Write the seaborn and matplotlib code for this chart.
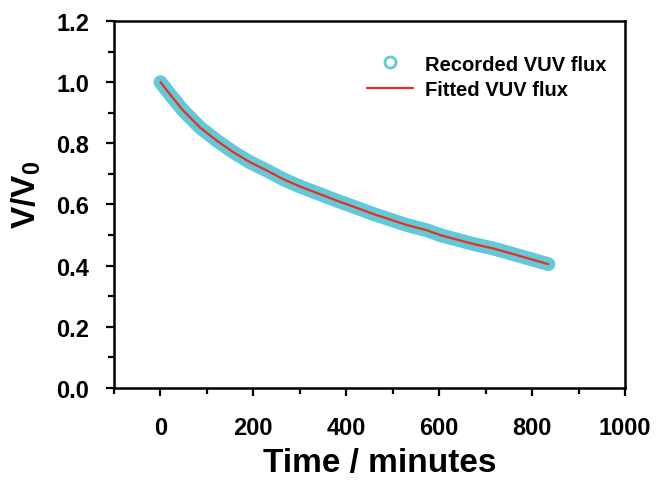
import numpy as np
import pandas as pd
import matplotlib
matplotlib.use('Agg')
import matplotlib.pyplot as plt
from matplotlib.lines import Line2D
from matplotlib.ticker import MultipleLocator
import seaborn as sns

# values
time_min = [0, 20, 49, 85, 121, 157, 193, 229, 264, 300, 336, 386, 430, 458, 530, 573, 602, 673, 717, 745, 835]
recorded = [1.0, 0.961, 0.907, 0.852, 0.809, 0.771, 0.738, 0.711, 0.683, 0.659, 0.638, 0.609, 0.585, 0.569,
            0.533, 0.516, 0.500, 0.471, 0.456, 0.444, 0.405]
fitted = [1.0, 0.961, 0.907, 0.852, 0.809, 0.771, 0.738, 0.711, 0.683, 0.659, 0.638, 0.609, 0.585, 0.569,
          0.533, 0.516, 0.500, 0.471, 0.456, 0.444, 0.405]
legend_labels = ['Recorded VUV flux', 'Fitted VUV flux']

df = pd.DataFrame({'time': time_min, 'recorded': recorded, 'fitted': fitted})

sns.set_style('ticks', {'axes.edgecolor': 'black', 'xtick.color': 'black', 'ytick.color': 'black',
                        'text.color': 'black', 'axes.labelcolor': 'black'})
plt.rcParams['font.family'] = ['Liberation Sans', 'DejaVu Sans']
plt.rcParams['font.weight'] = 'bold'
plt.rcParams['mathtext.fontset'] = 'custom'
plt.rcParams['mathtext.rm'] = 'Liberation Sans:bold'
plt.rcParams['mathtext.bf'] = 'Liberation Sans:bold'

cyan = '#63C8D8'
red = '#E8301C'

fig = plt.figure(figsize=(6.56, 4.81), dpi=100)
ax = fig.add_axes([0.1738, 0.1913, 0.7789, 0.763])

sns.lineplot(data=df, x='time', y='recorded', ax=ax, color=cyan, lw=10,
             solid_capstyle='round', solid_joinstyle='round', legend=False)
sns.lineplot(data=df, x='time', y='fitted', ax=ax, color=red, lw=1.6, legend=False)

ax.set_xlim(-100, 1000)
ax.set_ylim(0, 1.2)
ax.set_xticks([0, 200, 400, 600, 800, 1000])
ax.set_yticks([0.0, 0.2, 0.4, 0.6, 0.8, 1.0, 1.2])
ax.set_yticklabels(['0.0', '0.2', '0.4', '0.6', '0.8', '1.0', '1.2'])
ax.xaxis.set_minor_locator(MultipleLocator(100))
ax.yaxis.set_minor_locator(MultipleLocator(0.1))

for s in ax.spines.values():
    s.set_linewidth(1.8)
ax.tick_params(which='major', direction='out', length=6, width=1.6, labelsize=17, top=False, right=False)
ax.tick_params(which='minor', direction='out', length=4.5, width=1.6, top=False, right=False)
ax.tick_params(axis='x', which='major', pad=14)
ax.tick_params(axis='y', which='major', pad=12)

ax.set_xlabel('Time / minutes', fontsize=24, fontweight='bold')
ax.set_ylabel(r'V/V$_\mathbf{0}$', fontsize=24, fontweight='bold')
ax.xaxis.set_label_coords(0.52, -0.162)
ax.yaxis.set_label_coords(-0.139, 0.53)

handles = [Line2D([], [], ls='none', marker='o', markersize=8, markerfacecolor='none',
                  markeredgecolor=cyan, markeredgewidth=2),
           Line2D([], [], color=red, lw=1.6)]
ax.legend(handles, legend_labels, loc='upper right', bbox_to_anchor=(1.0, 0.958),
          frameon=False, prop={'size': 14.5, 'weight': 'bold'}, handlelength=2.3,
          handletextpad=0.6, labelspacing=0.3)

fig.savefig('out.png', dpi=100)
